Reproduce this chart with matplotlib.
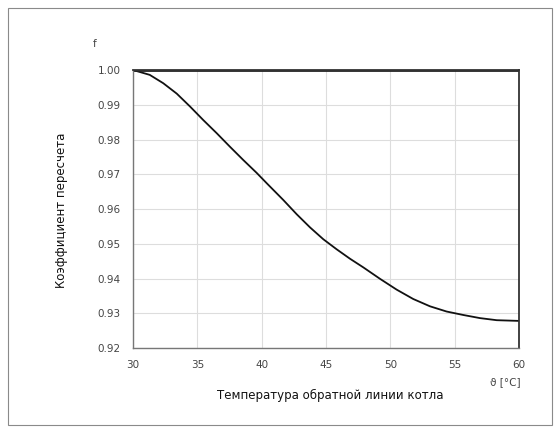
import matplotlib.pyplot as plt
from matplotlib.patches import Rectangle

# return temperature (deg C) and conversion factor
temp = [30.0, 31.3, 32.35, 33.4, 34.43, 35.46, 36.51, 37.54, 38.57, 39.61,
        40.45, 41.68, 42.72, 43.76, 44.79, 45.83, 46.86, 47.9, 49.2,
        50.49, 51.78, 53.08, 54.37, 55.67, 56.97, 58.27, 60.0]
factor = [1.000, 0.9986, 0.9962, 0.9932, 0.9895, 0.9856, 0.9818, 0.9779,
          0.9741, 0.9704, 0.9672, 0.9626, 0.9585, 0.9547, 0.9513, 0.9484,
          0.9457, 0.9432, 0.9399, 0.9368, 0.9341, 0.9320, 0.9305, 0.9295,
          0.9286, 0.9280, 0.9278]

x_ticks = [30, 35, 40, 45, 50, 55, 60]
y_ticks = [0.92, 0.93, 0.94, 0.95, 0.96, 0.97, 0.98, 0.99, 1.00]
y_labels = ['0.92', '0.93', '0.94', '0.95', '0.96', '0.97', '0.98', '0.99', '1.00']

fig = plt.figure(figsize=(5.6, 4.34), dpi=100)
W, H = 560, 434

# outer frame around the whole picture
fig.patches.append(Rectangle((8 / W, 1 - 425 / H), 544 / W, 417 / H,
                             transform=fig.transFigure, fill=False,
                             edgecolor='#8a8a8a', linewidth=0.8))

ax = fig.add_axes([133 / W, 1 - 348 / H, (519 - 133) / W, (348 - 70) / H])
ax.plot(temp, factor, color='#111111', linewidth=1.3)
ax.axhline(1.0, color='#222222', linewidth=2.0)

ax.set_xlim(30, 60)
ax.set_ylim(0.92, 1.0)
ax.set_xticks(x_ticks)
ax.set_yticks(y_ticks)
ax.set_yticklabels(y_labels)
ax.tick_params(length=0, labelsize=7.5, labelcolor='#444444', pad=9)
ax.grid(True, color='#dddddd', linewidth=0.8)

for side in ['left', 'bottom']:
    ax.spines[side].set_color('#777777')
    ax.spines[side].set_linewidth(1.0)
for side in ['top', 'right']:
    ax.spines[side].set_color('#333333')
    ax.spines[side].set_linewidth(1.3)

fig.text(62 / W, 1 - 210 / H, 'Коэффициент пересчета', rotation=90,
         ha='center', va='center', fontsize=8.5, color='#111111')
fig.text(330 / W, 1 - 395 / H, 'Температура обратной линии котла',
         ha='center', va='center', fontsize=8.5, color='#111111')
fig.text(95 / W, 1 - 44 / H, 'f', ha='center', va='center',
         fontsize=7.5, color='#444444')
fig.text(521 / W, 1 - 382 / H, 'ϑ [°C]', ha='right', va='center',
         fontsize=7.5, color='#444444')

fig.savefig('out.png', dpi=100)
